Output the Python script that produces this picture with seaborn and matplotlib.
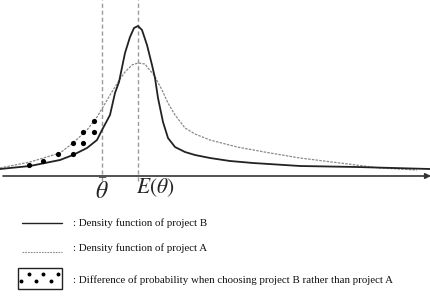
import matplotlib
matplotlib.use("Agg")
import matplotlib.pyplot as plt
import seaborn as sns
import pandas as pd
from matplotlib.lines import Line2D
from matplotlib.patches import Rectangle

sns.set_theme(style="white")
plt.rcParams['font.family'] = ['Liberation Serif', 'DejaVu Serif']
plt.rcParams['mathtext.fontset'] = 'stix'

# ---- data (x position along theta axis, density height) ----
theta_b = [0, 30, 60, 73, 87, 97, 102, 110, 115, 119, 125, 130, 134, 138, 142, 147,
           152, 155, 158, 163, 168, 175, 185, 195, 210, 230, 253, 300, 357, 430]
density_b = [7, 10, 16, 21, 28, 36, 46, 61, 83, 94, 123, 139, 148, 150, 146, 131,
             111, 98, 78, 54, 38, 29, 24, 21, 18, 15, 13, 10, 9, 7]

theta_a = [0, 30, 60, 73, 87, 97, 103, 110, 115, 120, 125, 132, 138, 145, 148, 154,
           162, 168, 175, 185, 195, 210, 237, 270, 300, 340, 380, 417]
density_a = [8, 14, 23, 33, 46, 59, 69, 81, 89, 97, 104, 111, 113, 112, 108, 101,
             86, 73, 61, 48, 42, 36, 29, 23, 18, 13, 8, 6]

dots_x = [29, 43, 58, 73, 73, 83, 83, 94, 94]
dots_y = [11, 15, 22, 22, 33, 33, 44, 44, 55]

theta_bar = 102
theta_mean = 138

legend_labels = [": Density function of project B",
                 ": Density function of project A",
                 ": Difference of probability when choosing project B rather than project A"]

df_b = pd.DataFrame({"theta": theta_b, "density": density_b})
df_a = pd.DataFrame({"theta": theta_a, "density": density_a})
df_d = pd.DataFrame({"theta": dots_x, "density": dots_y})

W, H = 431, 297
fig = plt.figure(figsize=(W / 100, H / 100), dpi=100)
ax = fig.add_axes([0, 0, 1, 1])
ax.set_xlim(0, W)
ax.set_ylim(176 - H, 176)
ax.axis("off")

# vertical reference lines
ax.vlines([theta_bar, theta_mean], -5, 176, colors="#9a9a9a",
          linestyles=(0, (3, 2)), linewidth=1.0, zorder=1)

sns.lineplot(data=df_a, x="theta", y="density", ax=ax, color="#8a8a8a",
             linewidth=0.9, linestyle=(0, (2, 1)), sort=False, zorder=3)
sns.lineplot(data=df_b, x="theta", y="density", ax=ax, color="#222222",
             linewidth=1.3, sort=False, zorder=4)
sns.scatterplot(data=df_d, x="theta", y="density", ax=ax, color="black",
                s=14, linewidth=0, zorder=5)

# x axis arrow
ax.annotate("", xy=(431, 0), xytext=(3, 0),
            arrowprops=dict(arrowstyle="-|>", color="#333333", lw=1.2,
                            mutation_scale=8, shrinkA=0, shrinkB=0))

ax.text(theta_bar, -16, r"$\bar{\theta}$", fontsize=17, ha="center", va="center")
ax.text(theta_mean + 17, -12, r"$E(\theta)$", fontsize=15.5, ha="center", va="center")

# ---- legend (pixel-coordinate overlay) ----
lg = fig.add_axes([0, 0, 1, 1])
lg.set_xlim(0, W)
lg.set_ylim(H, 0)
lg.axis("off")
lg.add_line(Line2D([22, 62], [223, 223], color="#222222", lw=1.0))
lg.add_line(Line2D([22, 62], [252, 252], color="#8a8a8a", lw=0.8, ls=(0, (1.5, 1))))
lg.add_patch(Rectangle((18, 268), 44, 21, fill=False, ec="#222222", lw=1.0))
box_dots_x = [21, 29, 36, 43, 51, 58]
box_dots_y = [281, 274, 281, 274, 281, 274]
lg.scatter(box_dots_x, box_dots_y, s=8, color="black", linewidths=0)
for yy, lab in zip([223, 248, 280], legend_labels):
    lg.text(73, yy, lab, fontsize=7.8, ha="left", va="center", color="#111111")

fig.savefig("out.png", dpi=100)
